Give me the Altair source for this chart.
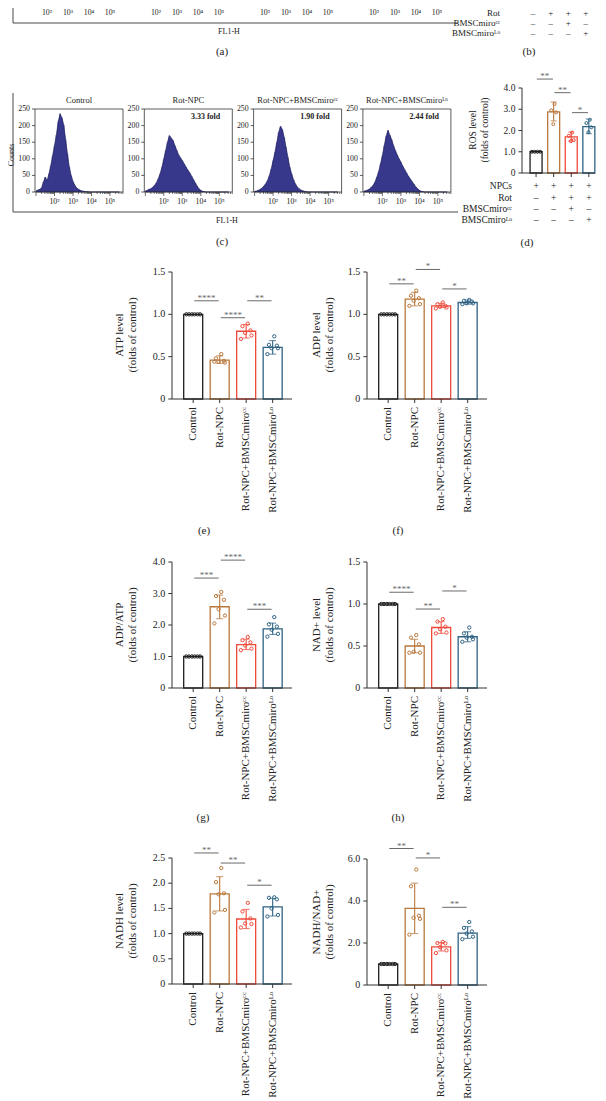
import math
import altair as alt
import pandas as pd

OFF = 8
def P(v):
    return v - OFF

FONT = "Liberation Serif"
TXT = "#222222"
AXC = "#333333"
SIGC = "#6a6a6a"

GROUPS = ["Control", "Rot-NPC", "Rot-NPC+BMSCmiroᶜᶜ", "Rot-NPC+BMSCmiroᴸᵒ"]
GROUP_COLORS = ["#1f1f1f", "#b9783c", "#ef4a3b", "#2e6384"]

# ---------------- panel c : flow histograms ----------------
HIST_LOG = [1.0, 1.1, 1.2, 1.3, 1.4, 1.5, 1.6, 1.7, 1.8, 1.9,
            2.0, 2.1, 2.2, 2.3, 2.4, 2.5, 2.6, 2.7, 2.8, 2.9,
            3.0, 3.1, 3.2, 3.3, 3.4, 3.5, 3.6, 3.7, 3.8, 3.9,
            4.0, 4.1, 4.2, 4.3, 4.4, 4.5, 4.6, 4.7, 4.8, 4.9,
            5.0, 5.1, 5.2, 5.3, 5.4, 5.5]
HIST_CONTROL = [3, 6, 8, 12, 30, 45, 35, 55, 80, 110,
                140, 172, 212, 236, 224, 202, 158, 115, 75, 50,
                32, 20, 12, 8, 5, 3, 2, 1, 1, 0,
                0, 0, 0, 0, 0, 0, 0, 0, 0, 0, 0, 0, 0, 0, 0, 0]
HIST_ROT = [3, 5, 8, 10, 14, 20, 28, 40, 55, 75,
            100, 125, 150, 170, 163, 155, 140, 126, 112, 103,
            95, 85, 75, 66, 58, 48, 38, 28, 18, 10,
            5, 2, 1, 0, 0, 0, 0, 0, 0, 0, 0, 0, 0, 0, 0, 0]
HIST_CC = [2, 3, 5, 8, 12, 18, 25, 35, 50, 70,
           95, 120, 150, 180, 198, 188, 165, 135, 105, 75,
           55, 38, 25, 16, 10, 6, 4, 2, 1, 0,
           0, 0, 0, 0, 0, 0, 0, 0, 0, 0, 0, 0, 0, 0, 0, 0]
HIST_LO = [3, 4, 6, 9, 14, 20, 30, 45, 62, 85,
           110, 140, 168, 186, 172, 158, 140, 125, 112, 100,
           90, 78, 68, 58, 48, 40, 32, 24, 16, 10,
           5, 2, 1, 0, 0, 0, 0, 0, 0, 0, 0, 0, 0, 0, 0, 0]
HIST_TITLES = ["Control", "Rot-NPC", "Rot-NPC+BMSCmiroᶜᶜ", "Rot-NPC+BMSCmiroᴸᵒ"]
HIST_FOLDS = ["", "3.33 fold", "1.90 fold", "2.44 fold"]
HIST_YTICKS = [0, 50, 100, 150, 200, 250]
HIST_XTICKS = [2, 3, 4, 5]
HIST_XLABELS = ["10²", "10³", "10⁴", "10⁵"]

# ---------------- panel d : ROS ----------------
ROS_MEAN = [1.00, 2.88, 1.70, 2.18]
ROS_LO = [1.00, 2.45, 1.50, 1.85]
ROS_HI = [1.00, 3.34, 1.93, 2.54]
ROS_PTS = [[1.0, 1.0, 1.0, 1.0],
           [3.25, 2.95, 2.85, 2.30],
           [1.90, 1.75, 1.55, 1.50],
           [2.50, 2.35, 2.15, 1.92]]
ROS_SIG = [(0, 1, 4.42, "**"), (1, 2, 3.78, "**"), (2, 3, 2.84, "*")]
ROS_TABLE_ROWS = ["NPCs", "Rot", "BMSCmiroᶜᶜ", "BMSCmiroᴸᵒ"]
ROS_TABLE = [["+", "+", "+", "+"],
             ["–", "+", "+", "+"],
             ["–", "–", "+", "–"],
             ["–", "–", "–", "+"]]

# ---------------- panels e-j ----------------
ATP_MEAN = [1.00, 0.46, 0.80, 0.61]
ATP_LO = [1.00, 0.42, 0.72, 0.53]
ATP_HI = [1.00, 0.51, 0.88, 0.69]
ATP_PTS = [[1.0, 1.0, 1.0, 1.0, 1.0, 1.0],
           [0.53, 0.48, 0.45, 0.44, 0.43, 0.44],
           [0.89, 0.86, 0.81, 0.78, 0.75, 0.71],
           [0.74, 0.64, 0.63, 0.60, 0.60, 0.53]]
ATP_SIG = [(0, 1, 1.16, "****"), (1, 2, 0.96, "****"), (2, 3, 1.16, "**")]

ADP_MEAN = [1.00, 1.18, 1.10, 1.14]
ADP_LO = [1.00, 1.10, 1.08, 1.12]
ADP_HI = [1.00, 1.26, 1.13, 1.17]
ADP_PTS = [[1.0, 1.0, 1.0, 1.0, 1.0, 1.0],
           [1.28, 1.22, 1.19, 1.16, 1.12, 1.10],
           [1.14, 1.12, 1.10, 1.09, 1.08, 1.07],
           [1.17, 1.16, 1.15, 1.13, 1.13, 1.12]]
ADP_SIG = [(0, 1, 1.36, "**"), (1, 2, 1.53, "*"), (2, 3, 1.30, "*")]

RATIO_MEAN = [1.00, 2.58, 1.38, 1.88]
RATIO_LO = [1.00, 2.20, 1.22, 1.70]
RATIO_HI = [1.00, 2.95, 1.55, 2.06]
RATIO_PTS = [[1.0, 1.0, 1.0, 1.0, 1.0, 1.0],
             [3.05, 2.92, 2.80, 2.50, 2.30, 2.05],
             [1.62, 1.52, 1.45, 1.35, 1.25, 1.20],
             [2.25, 2.02, 1.95, 1.85, 1.72, 1.63]]
RATIO_SIG = [(0, 1, 3.49, "***"), (1, 2, 4.06, "****"), (2, 3, 2.50, "***")]

NAD_MEAN = [1.00, 0.50, 0.72, 0.61]
NAD_LO = [1.00, 0.42, 0.65, 0.55]
NAD_HI = [1.00, 0.58, 0.79, 0.67]
NAD_PTS = [[1.0, 1.0, 1.0, 1.0, 1.0, 1.0],
           [0.63, 0.60, 0.52, 0.43, 0.42, 0.42],
           [0.82, 0.79, 0.73, 0.70, 0.66, 0.65],
           [0.72, 0.65, 0.61, 0.60, 0.58, 0.55]]
NAD_SIG = [(0, 1, 1.14, "****"), (1, 2, 0.94, "**"), (2, 3, 1.155, "*")]

NADH_MEAN = [1.00, 1.79, 1.29, 1.53]
NADH_LO = [1.00, 1.45, 1.10, 1.35]
NADH_HI = [1.00, 2.13, 1.48, 1.70]
NADH_PTS = [[1.0, 1.0, 1.0, 1.0, 1.0, 1.0],
            [2.30, 2.02, 1.80, 1.78, 1.47, 1.42],
            [1.61, 1.44, 1.30, 1.20, 1.19, 1.12],
            [1.72, 1.71, 1.68, 1.50, 1.37, 1.34]]
NADH_SIG = [(0, 1, 2.60, "**"), (1, 2, 2.40, "**"), (2, 3, 1.96, "*")]

NN_MEAN = [1.00, 3.65, 1.82, 2.47]
NN_LO = [1.00, 2.45, 1.62, 2.22]
NN_HI = [1.00, 4.85, 2.02, 2.78]
NN_PTS = [[1.0, 1.0, 1.0, 1.0, 1.0, 1.0],
          [5.50, 4.70, 3.30, 3.20, 3.15, 2.40],
          [2.05, 2.00, 1.98, 1.80, 1.65, 1.52],
          [3.00, 2.72, 2.55, 2.45, 2.30, 2.18]]
NN_SIG = [(0, 1, 6.50, "**"), (1, 2, 6.05, "*"), (2, 3, 3.70, "**")]

Y15_TICKS = [0, 0.5, 1.0, 1.5]
Y15_LABELS = ["0", "0.5", "1.0", "1.5"]
Y4_TICKS = [0, 1, 2, 3, 4]
Y4_LABELS = ["0", "1.0", "2.0", "3.0", "4.0"]
Y25_TICKS = [0, 0.5, 1.0, 1.5, 2.0, 2.5]
Y25_LABELS = ["0", "0.5", "1.0", "1.5", "2.0", "2.5"]
Y6_TICKS = [0, 2, 4, 6]
Y6_LABELS = ["0", "2.0", "4.0", "6.0"]

# point scatter within bars (style)
JIT6 = [0.06, -0.14, 0.16, -0.04, 0.20, -0.20]
CTRL6 = [-0.26, -0.16, -0.05, 0.05, 0.16, 0.26]
JIT4 = [0.05, -0.14, 0.14, -0.02]
CTRL4 = [-0.24, -0.08, 0.08, 0.24]


def T(x, y, s, size=10, angle=0, align="center", weight="normal", baseline="middle", color=TXT):
    return alt.Chart(pd.DataFrame({"s": [s]})).mark_text(
        fontSize=size, angle=angle, align=align, fontWeight=weight,
        baseline=baseline, color=color, font=FONT
    ).encode(x=alt.value(P(x)), y=alt.value(P(y)), text="s:N")


def R(x1, y1, x2, y2, color=AXC, w=0.9):
    return alt.Chart(pd.DataFrame({"d": [0]})).mark_rule(color=color, strokeWidth=w).encode(
        x=alt.value(P(x1)), y=alt.value(P(y1)), x2=alt.value(P(x2)), y2=alt.value(P(y2)))


CSCALE = alt.Scale(domain=GROUPS, range=GROUP_COLORS)


def bar_panel(mean, lo, hi, pts, sig, yticks, ylabels, ymax, xr, yr,
              xmin=-0.8, xmax=3.73, bar_w=19, jit=JIT6, cjit=CTRL6,
              xlabels=True, tick_fs=10, lab_fs=11, pt_size=11, cap=7, sig_fs=9):
    pxu = (xr[1] - xr[0]) / (xmax - xmin)
    pyu = (yr[0] - yr[1]) / ymax
    xs = alt.Scale(domain=[xmin, xmax], range=[P(xr[0]), P(xr[1])], nice=False, zero=False)
    ys = alt.Scale(domain=[0, ymax], range=[P(yr[0]), P(yr[1])], nice=False, zero=False)

    def X(f):
        return alt.X(f, scale=xs, axis=None)

    def Y(f):
        return alt.Y(f, scale=ys, axis=None)

    col = alt.Color("grp:N", scale=CSCALE, legend=None)
    idx = [0, 1, 2, 3]
    dfb = pd.DataFrame({"i": idx, "m": mean, "z": [0.0] * 4, "grp": GROUPS})
    bars = alt.Chart(dfb).mark_bar(size=bar_w, fill="white", strokeWidth=1.3).encode(
        x=X("i:Q"), y=Y("m:Q"), y2="z:Q",
        stroke=alt.Stroke("grp:N", scale=CSCALE, legend=None))
    dfe = pd.DataFrame({"i": idx[1:], "lo": lo[1:], "hi": hi[1:], "grp": GROUPS[1:]})
    err = alt.Chart(dfe).mark_rule(strokeWidth=1.1).encode(
        x=X("i:Q"), y=Y("lo:Q"), y2="hi:Q", color=col)
    cap_hi = alt.Chart(dfe).mark_tick(orient="horizontal", size=cap, thickness=1.1).encode(
        x=X("i:Q"), y=Y("hi:Q"), color=col)
    cap_lo = alt.Chart(dfe).mark_tick(orient="horizontal", size=cap, thickness=1.1).encode(
        x=X("i:Q"), y=Y("lo:Q"), color=col)
    rows = []
    for g, vals in enumerate(pts):
        jj = cjit if g == 0 else jit
        for k, v in enumerate(vals):
            rows.append({"px": g + jj[k], "v": v, "grp": GROUPS[g]})
    dfp = pd.DataFrame(rows)
    dots = alt.Chart(dfp).mark_point(filled=False, size=pt_size, strokeWidth=1, opacity=1).encode(
        x=X("px:Q"), y=Y("v:Q"), color=col)
    dfs = pd.DataFrame({
        "a": [s[0] + 0.04 for s in sig], "b": [s[1] - 0.04 for s in sig],
        "m": [(s[0] + s[1]) / 2 for s in sig], "y": [s[2] for s in sig],
        "t": [s[3] for s in sig]})
    sig_r = alt.Chart(dfs).mark_rule(color=SIGC, strokeWidth=1).encode(
        x=X("a:Q"), x2="b:Q", y=Y("y:Q"))
    sig_t = alt.Chart(dfs).mark_text(color=SIGC, fontSize=sig_fs, baseline="alphabetic", dy=0, font=FONT).encode(
        x=X("m:Q"), y=Y("y:Q"), text="t:N")

    tlx = 4 / pxu
    tly = 4 / pyu
    dfax = pd.DataFrame({"x0": [xmin], "x1": [xmax], "y0": [0.0], "y1": [ymax]})
    yax = alt.Chart(dfax).mark_rule(color=AXC, strokeWidth=1).encode(x=X("x0:Q"), y=Y("y0:Q"), y2="y1:Q")
    xax = alt.Chart(dfax).mark_rule(color=AXC, strokeWidth=1).encode(x=X("x0:Q"), x2="x1:Q", y=Y("y0:Q"))
    dfyt = pd.DataFrame({"v": yticks, "t": ylabels, "x0": xmin, "xt": xmin - tlx})
    ytk = alt.Chart(dfyt).mark_rule(color=AXC, strokeWidth=1).encode(x=X("xt:Q"), x2="x0:Q", y=Y("v:Q"))
    ytl = alt.Chart(dfyt).mark_text(align="right", baseline="middle", dx=-3, fontSize=tick_fs,
                                    color=TXT, font=FONT).encode(x=X("xt:Q"), y=Y("v:Q"), text="t:N")
    dfxt = pd.DataFrame({"i": idx, "y0": 0.0, "yt": -tly, "t": GROUPS})
    xtk = alt.Chart(dfxt).mark_rule(color=AXC, strokeWidth=1).encode(x=X("i:Q"), y=Y("y0:Q"), y2="yt:Q")
    layers = [bars, err, cap_hi, cap_lo, dots, sig_r, sig_t, yax, xax, ytk, ytl, xtk]
    if xlabels:
        xtl = alt.Chart(dfxt).mark_text(angle=270, align="right", baseline="middle", dx=-8,
                                        fontSize=lab_fs, color=TXT, font=FONT).encode(
            x=X("i:Q"), y=Y("y0:Q"), text="t:N")
        layers.append(xtl)
    return layers, X


def hist_panel(k, counts, title, fold):
    ax = 35 + 109.3 * k
    w = 88
    lo_, hi_ = 0.946, 5.70
    pxu = w / (hi_ - lo_)
    pyu = 83 / 250
    xs = alt.Scale(domain=[lo_, hi_], range=[P(ax), P(ax + w)], nice=False, zero=False)
    ys = alt.Scale(domain=[0, 250], range=[P(192), P(109)], nice=False, zero=False)

    def X(f):
        return alt.X(f, scale=xs, axis=None)

    def Y(f):
        return alt.Y(f, scale=ys, axis=None)

    df = pd.DataFrame({"lv": HIST_LOG, "c": counts, "z": 0.0})
    light = alt.Chart(df).mark_area(interpolate="step", color="#a4a4d8").encode(
        x=X("lv:Q"), y=Y("c:Q"), y2="z:Q")
    dark = alt.Chart(df).mark_area(interpolate="linear", color="#37378c", stroke="#161650",
                                   strokeWidth=0.6).encode(x=X("lv:Q"), y=Y("c:Q"), y2="z:Q")
    box = pd.DataFrame({"x0": [lo_], "x1": [hi_], "y0": [0.0], "y1": [250.0]})
    frame = alt.Chart(box).mark_rect(fill="white", fillOpacity=0, stroke=AXC, strokeWidth=0.8).encode(
        x=X("x0:Q"), x2="x1:Q", y=Y("y0:Q"), y2="y1:Q")
    dfyt = pd.DataFrame({"v": HIST_YTICKS, "t": [str(v) for v in HIST_YTICKS],
                         "x0": lo_, "xt": lo_ - 3 / pxu})
    ytk = alt.Chart(dfyt).mark_rule(color=AXC, strokeWidth=0.8).encode(x=X("xt:Q"), x2="x0:Q", y=Y("v:Q"))
    ytl = alt.Chart(dfyt).mark_text(align="right", baseline="middle", dx=-2, fontSize=7.8,
                                    color=TXT, font=FONT).encode(x=X("xt:Q"), y=Y("v:Q"), text="t:N")
    majors = [1, 2, 3, 4, 5]
    minors = [math.log10(m * 10 ** d) for d in range(1, 6) for m in range(2, 10)
              if math.log10(m * 10 ** d) < hi_]
    dft = pd.DataFrame({"v": majors + minors,
                        "y0": 0.0,
                        "yt": [-4 / pyu] * len(majors) + [-2 / pyu] * len(minors)})
    xtk = alt.Chart(dft).mark_rule(color=AXC, strokeWidth=0.7).encode(x=X("v:Q"), y=Y("y0:Q"), y2="yt:Q")
    dfxl = pd.DataFrame({"v": HIST_XTICKS, "t": HIST_XLABELS, "y0": 0.0})
    xtl = alt.Chart(dfxl).mark_text(baseline="middle", dy=10, fontSize=7.8, color=TXT, font=FONT).encode(
        x=X("v:Q"), y=Y("y0:Q"), text="t:N")
    layers = [light, dark, frame, ytk, ytl, xtk, xtl]
    panel = alt.layer(*layers)
    extra = [T(ax + 44, 100, title, 8.5)]
    if fold:
        extra.append(T(ax + 76, 117, fold, 8, align="right", weight="bold"))
    return panel, extra


all_layers = []

# ---- top strip: remnants of panels (a) and (b) ----
for k in range(4):
    sx = alt.Scale(domain=[2, 5], range=[P(47 + 109 * k), P(110 + 109 * k)], nice=False, zero=False)
    dfl = pd.DataFrame({"v": HIST_XTICKS, "t": HIST_XLABELS})
    all_layers.append(alt.Chart(dfl).mark_text(fontSize=7.8, baseline="middle", color=TXT, font=FONT).encode(
        x=alt.X("v:Q", scale=sx, axis=None), y=alt.value(P(13)), text="t:N"))
all_layers += [R(13, 8, 13, 23), R(13, 23, 458, 23),
               T(229, 32, "FL1-H", 8), T(222, 52, "(a)", 11), T(529, 52, "(b)", 11)]

# ---- panel c ----
for k, (cnt, ttl, fld) in enumerate(zip([HIST_CONTROL, HIST_ROT, HIST_CC, HIST_LO], HIST_TITLES, HIST_FOLDS)):
    pnl, extra = hist_panel(k, cnt, ttl, fld)
    all_layers.append(pnl)
    all_layers += extra
all_layers += [R(13, 93, 13, 212), R(13, 212, 458, 212),
               T(12, 155, "Counts", 8, angle=270), T(227, 221, "FL1-H", 8), T(222, 242, "(c)", 11)]

# ---- panel d (ROS) + table, also table of (b) ----
ros_layers, RX = bar_panel(ROS_MEAN, ROS_LO, ROS_HI, ROS_PTS, ROS_SIG, Y4_TICKS, Y4_LABELS, 4.0,
                           (517, 600), (173, 88), xmin=-0.8, xmax=3.35, bar_w=12, jit=JIT4,
                           cjit=CTRL4, xlabels=False, tick_fs=9.5, pt_size=9, cap=6)
ROW_Y_D = [186, 197.5, 208.5, 220]
ROW_Y_B = [12.5, 22.5, 33]
for r, (lab, signs) in enumerate(zip(ROS_TABLE_ROWS, ROS_TABLE)):
    dfs = pd.DataFrame({"i": [0, 1, 2, 3], "t": signs})
    ros_layers.append(alt.Chart(dfs).mark_text(fontSize=9.5, baseline="middle", color=TXT, font=FONT).encode(
        x=RX("i:Q"), y=alt.value(P(ROW_Y_D[r])), text="t:N"))
    all_layers.append(T(512, ROW_Y_D[r], lab, 9.5, align="right"))
    if r >= 1:
        ros_layers.append(alt.Chart(dfs).mark_text(fontSize=9, baseline="middle", dx=-3, color=TXT,
                                                   font=FONT).encode(
            x=RX("i:Q"), y=alt.value(P(ROW_Y_B[r - 1])), text="t:N"))
        all_layers.append(T(500, ROW_Y_B[r - 1], lab, 9, align="right"))
all_layers.append(alt.layer(*ros_layers))
all_layers += [T(473, 130, "ROS level", 9.5, angle=270), T(485, 130, "(folds of control)", 9.5, angle=270),
               T(527, 243, "(d)", 11)]

# ---- panels e-j ----
PANELS = [
    (ATP_MEAN, ATP_LO, ATP_HI, ATP_PTS, ATP_SIG, Y15_TICKS, Y15_LABELS, 1.5, (167, 297), (399, 272),
     "ATP level", 120, 335, "(e)", 204, 531),
    (ADP_MEAN, ADP_LO, ADP_HI, ADP_PTS, ADP_SIG, Y15_TICKS, Y15_LABELS, 1.5, (362, 492), (399, 272),
     "ADP level", 317, 335, "(f)", 398, 531),
    (RATIO_MEAN, RATIO_LO, RATIO_HI, RATIO_PTS, RATIO_SIG, Y4_TICKS, Y4_LABELS, 4.0, (167, 297), (688, 562),
     "ADP/ATP", 120, 625, "(g)", 203, 818),
    (NAD_MEAN, NAD_LO, NAD_HI, NAD_PTS, NAD_SIG, Y15_TICKS, Y15_LABELS, 1.5, (362, 492), (688, 562),
     "NAD+ level", 317, 625, "(h)", 398, 818),
    (NADH_MEAN, NADH_LO, NADH_HI, NADH_PTS, NADH_SIG, Y25_TICKS, Y25_LABELS, 2.5, (167, 297), (984, 858),
     "NADH level", 120, 921, None, 0, 0),
    (NN_MEAN, NN_LO, NN_HI, NN_PTS, NN_SIG, Y6_TICKS, Y6_LABELS, 6.0, (362, 492), (985, 859),
     "NADH/NAD+", 317, 922, None, 0, 0),
]
for (mn, lo, hi, pts, sig, yt, yl, ymax, xr, yr, ttl, tx, ty, plab, plx, ply) in PANELS:
    lyr, _ = bar_panel(mn, lo, hi, pts, sig, yt, yl, ymax, xr, yr)
    all_layers.append(alt.layer(*lyr))
    all_layers += [T(tx, ty, ttl, 11, angle=270), T(tx + 12.5, ty, "(folds of control)", 11, angle=270)]
    if plab:
        all_layers.append(T(plx, ply, plab, 11))

chart = alt.layer(*all_layers).resolve_scale(x="independent", y="independent").properties(
    width=590, height=1093, padding=0, autosize="none"
).configure(font=FONT).configure_view(stroke=None)

chart.save("out.html", embed_options={"renderer": "svg", "actions": False})
